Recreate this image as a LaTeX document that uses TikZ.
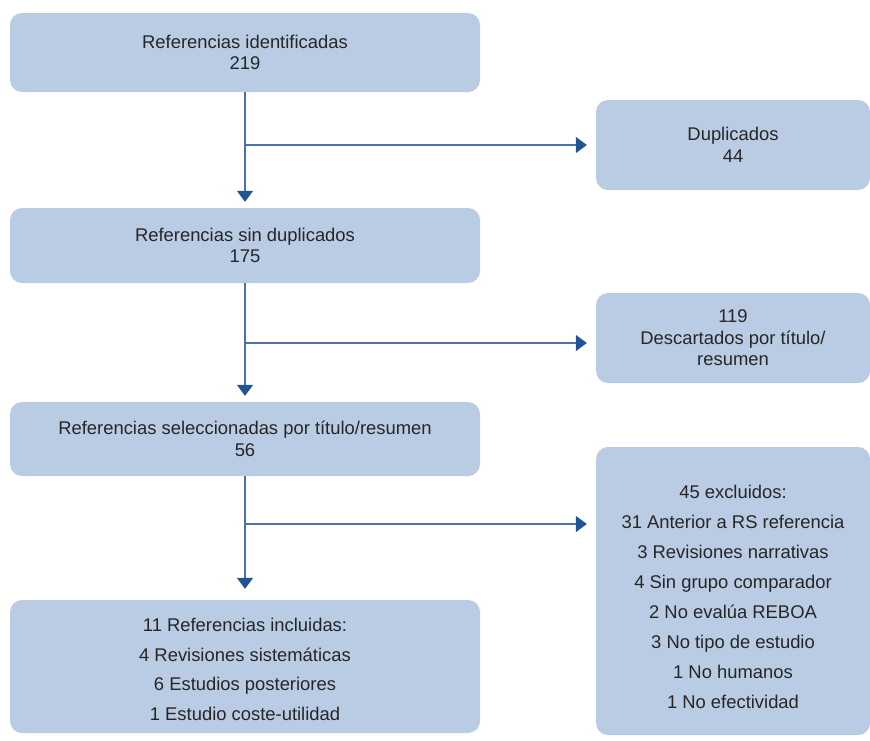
\documentclass[tikz,border=0pt]{standalone}
\usepackage{fontspec}
\setmainfont{Liberation Sans}
\usetikzlibrary{arrows.meta}
\definecolor{boxfill}{HTML}{B9CCE4}
\definecolor{linecol}{HTML}{4A72A8}
\definecolor{headcol}{HTML}{1F5597}
\begin{document}
\begin{tikzpicture}[x=1pt,y=-1pt,
  box/.style={fill=boxfill,draw=none,rounded corners=12pt,align=center,
    text=black!85,inner sep=0pt,font=\fontsize{18.4}{21.5}\selectfont},
  wide/.style={box,minimum width=470pt},
  side/.style={box,minimum width=274pt},
  conn/.style={draw=linecol,line width=1.6pt,-{Triangle[width=16pt,length=11pt,color=headcol]}}]
\useasboundingbox (0,0) rectangle (870,740);
\node[wide,minimum height=79pt] (b1) at (245,52.5) {Referencias identificadas\\219};
\node[side,minimum height=90pt] (b2) at (733,145) {Duplicados\\44};
\node[wide,minimum height=75pt] (b3) at (245,245.5) {Referencias sin duplicados\\175};
\node[side,minimum height=90pt] (b4) at (733,338) {119\\Descartados por título/\\resumen};
\node[wide,minimum height=74pt] (b5) at (245,439) {Referencias seleccionadas por título/resumen\\56};
\node[side,minimum height=288pt,font=\fontsize{18.4}{30}\selectfont] (b6) at (733,591)
  {\rule{0pt}{26pt}45 excluidos:\\31 Anterior a RS referencia\\3 Revisiones narrativas\\4 Sin grupo comparador\\2 No evalúa REBOA\\3 No tipo de estudio\\1 No humanos\\1 No efectividad};
\node[wide,minimum height=133pt,font=\fontsize{18.4}{29.5}\selectfont] (b7) at (245,666.5)
  {\rule{0pt}{19pt}11 Referencias incluidas:\\4 Revisiones sistemáticas\\6 Estudios posteriores\\1 Estudio coste-utilidad};
\coordinate (j1) at (245,145);
\coordinate (j2) at (245,343);
\coordinate (j3) at (245,524);
\draw[conn,shorten >=6pt] (b1.south) -- (b3.north);
\draw[conn,shorten >=6pt] (b3.south) -- (b5.north);
\draw[conn,shorten >=11pt] (b5.south) -- (b7.north);
\draw[conn,shorten >=9pt] (j1) -- (j1 -| b2.west);
\draw[conn,shorten >=9pt] (j2) -- (j2 -| b4.west);
\draw[conn,shorten >=9pt] (j3) -- (j3 -| b6.west);
\end{tikzpicture}
\end{document}
